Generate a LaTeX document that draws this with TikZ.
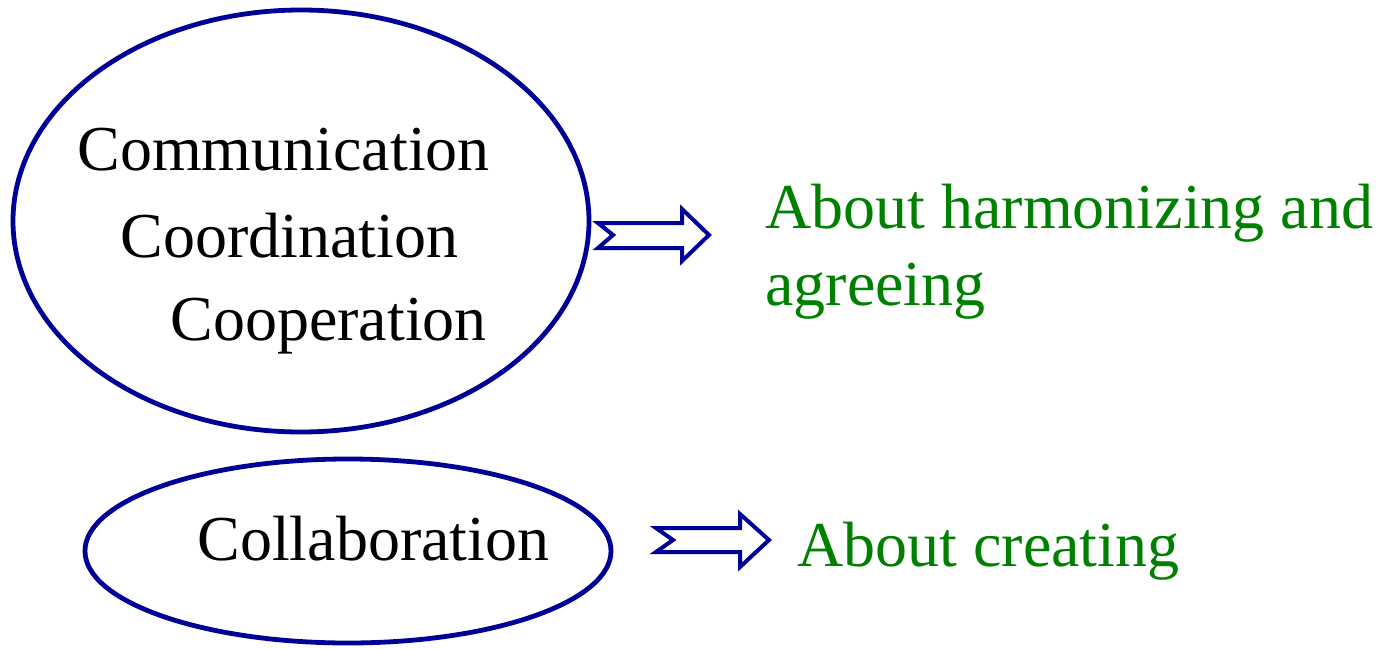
\documentclass[tikz,border=0pt]{standalone}
\usepackage{fontspec}
\setmainfont{Liberation Serif}
\definecolor{ringblue}{RGB}{0,0,150}
\definecolor{textgreen}{RGB}{0,128,0}
\tikzset{
  ring/.style={draw=ringblue, line width=2.4pt},
  fatarrow/.style={draw=ringblue, line width=2pt, fill=white, line join=miter},
  blacktext/.style={inner sep=0pt, anchor=base west, font=\rmfamily\fontsize{32}{38}\selectfont, text=black},
  greentext/.style={inner sep=0pt, anchor=base west, font=\rmfamily\fontsize{32}{38}\selectfont, text=textgreen}
}
\begin{document}
\begin{tikzpicture}[x=0.5pt,y=-0.5pt]
\useasboundingbox (0,0) rectangle (1376,648);
% ellipses
\draw[ring] (301,221) ellipse [x radius=288, y radius=211];
\draw[ring] (348,551) ellipse [x radius=263, y radius=92];
% texts
\node[blacktext] (comm) at (77,170) {Communication};
\node[blacktext] (coord) at (120,257) {Coordination};
\node[blacktext] (coop) at (170,340) {Cooperation};
\node[blacktext] (collab) at (197,560) {Collaboration};
\node[greentext] (harm) at (765,228) {About harmonizing and};
\node[greentext] (agree) at (765,305) {agreeing};
\node[greentext] (create) at (797,566) {About creating};
% arrows
\draw[fatarrow] (598,223) -- (682,223) -- (682,209) -- (709,235) -- (682,261) -- (682,248) -- (598,248) -- (613,235) -- cycle;
\draw[fatarrow] (656,528) -- (740,528) -- (740,514) -- (769,540) -- (740,567) -- (740,552) -- (656,552) -- (673,540) -- cycle;
\end{tikzpicture}
\end{document}
